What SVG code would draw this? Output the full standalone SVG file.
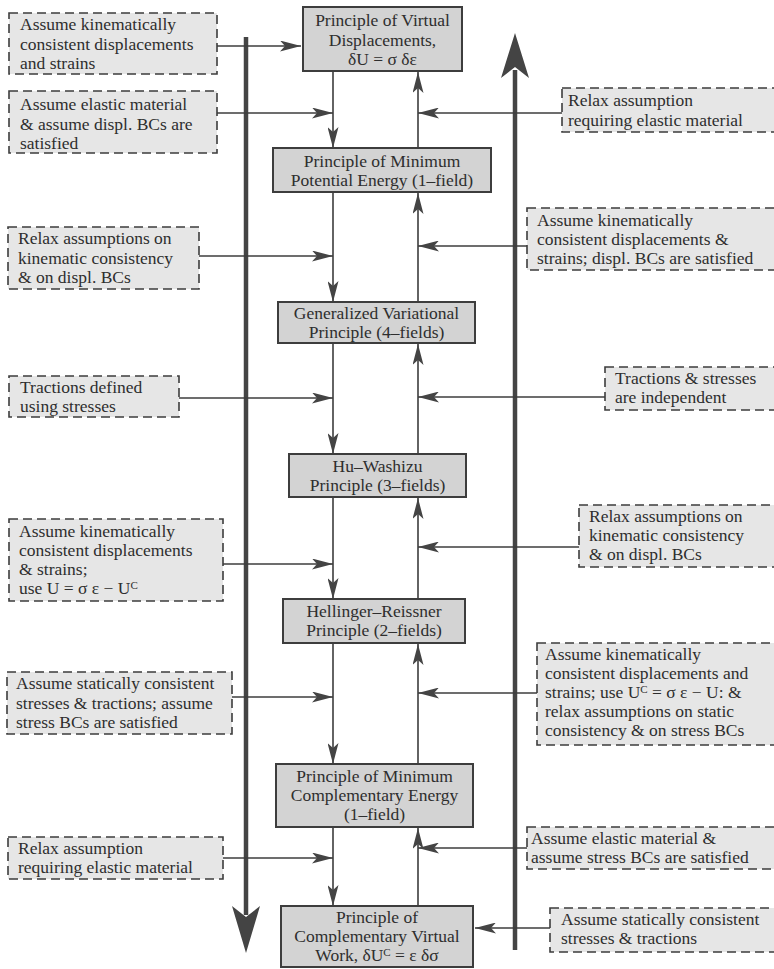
<svg xmlns="http://www.w3.org/2000/svg" width="774" height="969" viewBox="0 0 774 969">
<style>
  text { font-family: "Liberation Serif", "Times New Roman", serif; font-size: 17.5px; fill: #2e2e2e; }
  .c { text-anchor: middle; }
  .main rect { fill: #d3d3d3; stroke: #3d3d3d; stroke-width: 2; }
  .side rect { fill: #e6e6e6; stroke: #3d3d3d; stroke-width: 1.6; stroke-dasharray: 9 5; }
  .conn line { stroke: #3d3d3d; stroke-width: 1.6; }
  .thick { stroke: #444; stroke-width: 4.5; }
  .head { fill: #444; }
  .sup { font-size: 11px; }
</style>
<defs>
  <marker id="ah" markerUnits="userSpaceOnUse" markerWidth="22" markerHeight="11" refX="21" refY="5.5" orient="auto">
    <path d="M0,0 L21,5.5 L0,11 L5,5.5 z" fill="#444"/>
  </marker>
</defs>
<rect width="774" height="969" fill="#fff"/>

<!-- thick side arrows -->
<g id="thick-arrows">
  <line class="thick" x1="246" y1="37" x2="246" y2="915"/>
  <path class="head" d="M246,953 L232,906 L246,917 L260,906 z"/>
  <line class="thick" x1="515" y1="70" x2="515" y2="950"/>
  <path class="head" d="M515,33 L501,78 L515,67 L529,78 z"/>
</g>

<!-- connectors -->
<g id="connectors" class="conn">
  <line x1="217" y1="46" x2="301" y2="46" marker-end="url(#ah)"/>
  <line x1="217" y1="113" x2="333" y2="113" marker-end="url(#ah)"/>
  <line x1="562" y1="113" x2="418" y2="113" marker-end="url(#ah)"/>
  <line x1="333" y1="71" x2="333" y2="148" marker-end="url(#ah)"/>
  <line x1="418" y1="148" x2="418" y2="72" marker-end="url(#ah)"/>
  <line x1="333" y1="192" x2="333" y2="302" marker-end="url(#ah)"/>
  <line x1="418" y1="302" x2="418" y2="193" marker-end="url(#ah)"/>
  <line x1="199" y1="256" x2="333" y2="256" marker-end="url(#ah)"/>
  <line x1="527" y1="246" x2="418" y2="246" marker-end="url(#ah)"/>
  <line x1="333" y1="343" x2="333" y2="454" marker-end="url(#ah)"/>
  <line x1="418" y1="454" x2="418" y2="344" marker-end="url(#ah)"/>
  <line x1="179" y1="398" x2="333" y2="398" marker-end="url(#ah)"/>
  <line x1="605" y1="397" x2="418" y2="397" marker-end="url(#ah)"/>
  <line x1="333" y1="497" x2="333" y2="599" marker-end="url(#ah)"/>
  <line x1="418" y1="599" x2="418" y2="498" marker-end="url(#ah)"/>
  <line x1="223" y1="564" x2="333" y2="564" marker-end="url(#ah)"/>
  <line x1="579" y1="547" x2="418" y2="547" marker-end="url(#ah)"/>
  <line x1="333" y1="643" x2="333" y2="764" marker-end="url(#ah)"/>
  <line x1="418" y1="764" x2="418" y2="644" marker-end="url(#ah)"/>
  <line x1="232" y1="697" x2="333" y2="697" marker-end="url(#ah)"/>
  <line x1="537" y1="693" x2="418" y2="693" marker-end="url(#ah)"/>
  <line x1="333" y1="827" x2="333" y2="906" marker-end="url(#ah)"/>
  <line x1="418" y1="906" x2="418" y2="828" marker-end="url(#ah)"/>
  <line x1="223" y1="858" x2="333" y2="858" marker-end="url(#ah)"/>
  <line x1="527" y1="848" x2="418" y2="848" marker-end="url(#ah)"/>
  <line x1="550" y1="928" x2="475" y2="928" marker-end="url(#ah)"/>
</g>

<!-- main principle boxes -->
<g id="pvd" class="main">
  <rect x="303" y="7" width="159" height="64"/>
  <text class="c" x="382.5" y="26">Principle of Virtual</text>
  <text class="c" x="382.5" y="45.5">Displacements,</text>
  <text class="c" x="382.5" y="65">δU = σ δε</text>
</g>
<g id="pmpe" class="main">
  <rect x="273" y="148" width="218" height="44"/>
  <text class="c" x="382" y="167">Principle of Minimum</text>
  <text class="c" x="382" y="186">Potential Energy (1–field)</text>
</g>
<g id="gvp" class="main">
  <rect x="278" y="302" width="197" height="41"/>
  <text class="c" x="376.5" y="319">Generalized Variational</text>
  <text class="c" x="376.5" y="338">Principle (4–fields)</text>
</g>
<g id="hw" class="main">
  <rect x="289" y="454" width="177" height="43"/>
  <text class="c" x="377.5" y="472">Hu–Washizu</text>
  <text class="c" x="377.5" y="491">Principle (3–fields)</text>
</g>
<g id="hr" class="main">
  <rect x="283" y="599" width="182" height="44"/>
  <text class="c" x="374" y="617">Hellinger–Reissner</text>
  <text class="c" x="374" y="636">Principle (2–fields)</text>
</g>
<g id="pmce" class="main">
  <rect x="276" y="764" width="197" height="63"/>
  <text class="c" x="374.5" y="782">Principle of Minimum</text>
  <text class="c" x="374.5" y="801">Complementary Energy</text>
  <text class="c" x="374.5" y="820">(1–field)</text>
</g>
<g id="pcvw" class="main">
  <rect x="281" y="906" width="192" height="61"/>
  <text class="c" x="377" y="923">Principle of</text>
  <text class="c" x="377" y="942">Complementary Virtual</text>
  <text class="c" x="377" y="961">Work, δU<tspan class="sup" dy="-5">C</tspan><tspan dy="5"> = ε δσ</tspan></text>
</g>

<!-- left assumption boxes -->
<g id="l1" class="side">
  <rect x="9" y="13" width="208" height="61"/>
  <text x="20" y="30">Assume kinematically</text>
  <text x="20" y="49.5">consistent displacements</text>
  <text x="20" y="69">and strains</text>
</g>
<g id="l2" class="side">
  <rect x="9" y="91" width="208" height="62"/>
  <text x="20" y="110">Assume elastic material</text>
  <text x="20" y="129.5">&amp; assume displ. BCs are</text>
  <text x="20" y="149">satisfied</text>
</g>
<g id="l3" class="side">
  <rect x="8" y="227" width="191" height="62"/>
  <text x="18" y="244">Relax assumptions on</text>
  <text x="18" y="263.5">kinematic consistency</text>
  <text x="18" y="283">&amp; on displ. BCs</text>
</g>
<g id="l4" class="side">
  <rect x="9" y="376" width="170" height="41"/>
  <text x="20" y="393">Tractions defined</text>
  <text x="20" y="412">using stresses</text>
</g>
<g id="l5" class="side">
  <rect x="9" y="519" width="214" height="82"/>
  <text x="19" y="537">Assume kinematically</text>
  <text x="19" y="556">consistent displacements</text>
  <text x="19" y="575">&amp; strains;</text>
  <text x="19" y="594">use U = σ ε − U<tspan class="sup" dy="-5">C</tspan></text>
</g>
<g id="l6" class="side">
  <rect x="7" y="672" width="225" height="62"/>
  <text x="16" y="689">Assume statically consistent</text>
  <text x="16" y="708.5">stresses &amp; tractions; assume</text>
  <text x="16" y="728">stress BCs are satisfied</text>
</g>
<g id="l7" class="side">
  <rect x="8" y="837" width="215" height="42"/>
  <text x="18" y="854">Relax assumption</text>
  <text x="18" y="873">requiring elastic material</text>
</g>

<!-- right assumption boxes -->
<g id="r1" class="side">
  <rect x="562" y="88" width="220" height="44"/>
  <text x="568" y="106">Relax assumption</text>
  <text x="568" y="126">requiring elastic material</text>
</g>
<g id="r2" class="side">
  <rect x="527" y="208" width="255" height="62"/>
  <text x="537" y="226">Assume kinematically</text>
  <text x="537" y="245">consistent displacements &amp;</text>
  <text x="537" y="264">strains; displ. BCs are satisfied</text>
</g>
<g id="r3" class="side">
  <rect x="605" y="367" width="177" height="43"/>
  <text x="615" y="384">Tractions &amp; stresses</text>
  <text x="615" y="403">are independent</text>
</g>
<g id="r4" class="side">
  <rect x="579" y="505" width="203" height="62"/>
  <text x="589" y="522">Relax assumptions on</text>
  <text x="589" y="541">kinematic consistency</text>
  <text x="589" y="560">&amp; on displ. BCs</text>
</g>
<g id="r5" class="side">
  <rect x="537" y="643" width="245" height="102"/>
  <text x="545" y="660">Assume kinematically</text>
  <text x="545" y="679">consistent displacements and</text>
  <text x="545" y="698">strains; use U<tspan class="sup" dy="-5">C</tspan><tspan dy="5"> = σ ε − U: &amp;</tspan></text>
  <text x="545" y="717">relax assumptions on static</text>
  <text x="545" y="736">consistency &amp; on stress BCs</text>
</g>
<g id="r6" class="side">
  <rect x="527" y="827" width="255" height="42"/>
  <text x="531" y="844">Assume elastic material &amp;</text>
  <text x="531" y="863">assume stress BCs are satisfied</text>
</g>
<g id="r7" class="side">
  <rect x="550" y="908" width="232" height="44"/>
  <text x="561" y="925">Assume statically consistent</text>
  <text x="561" y="944">stresses &amp; tractions</text>
</g>
</svg>
